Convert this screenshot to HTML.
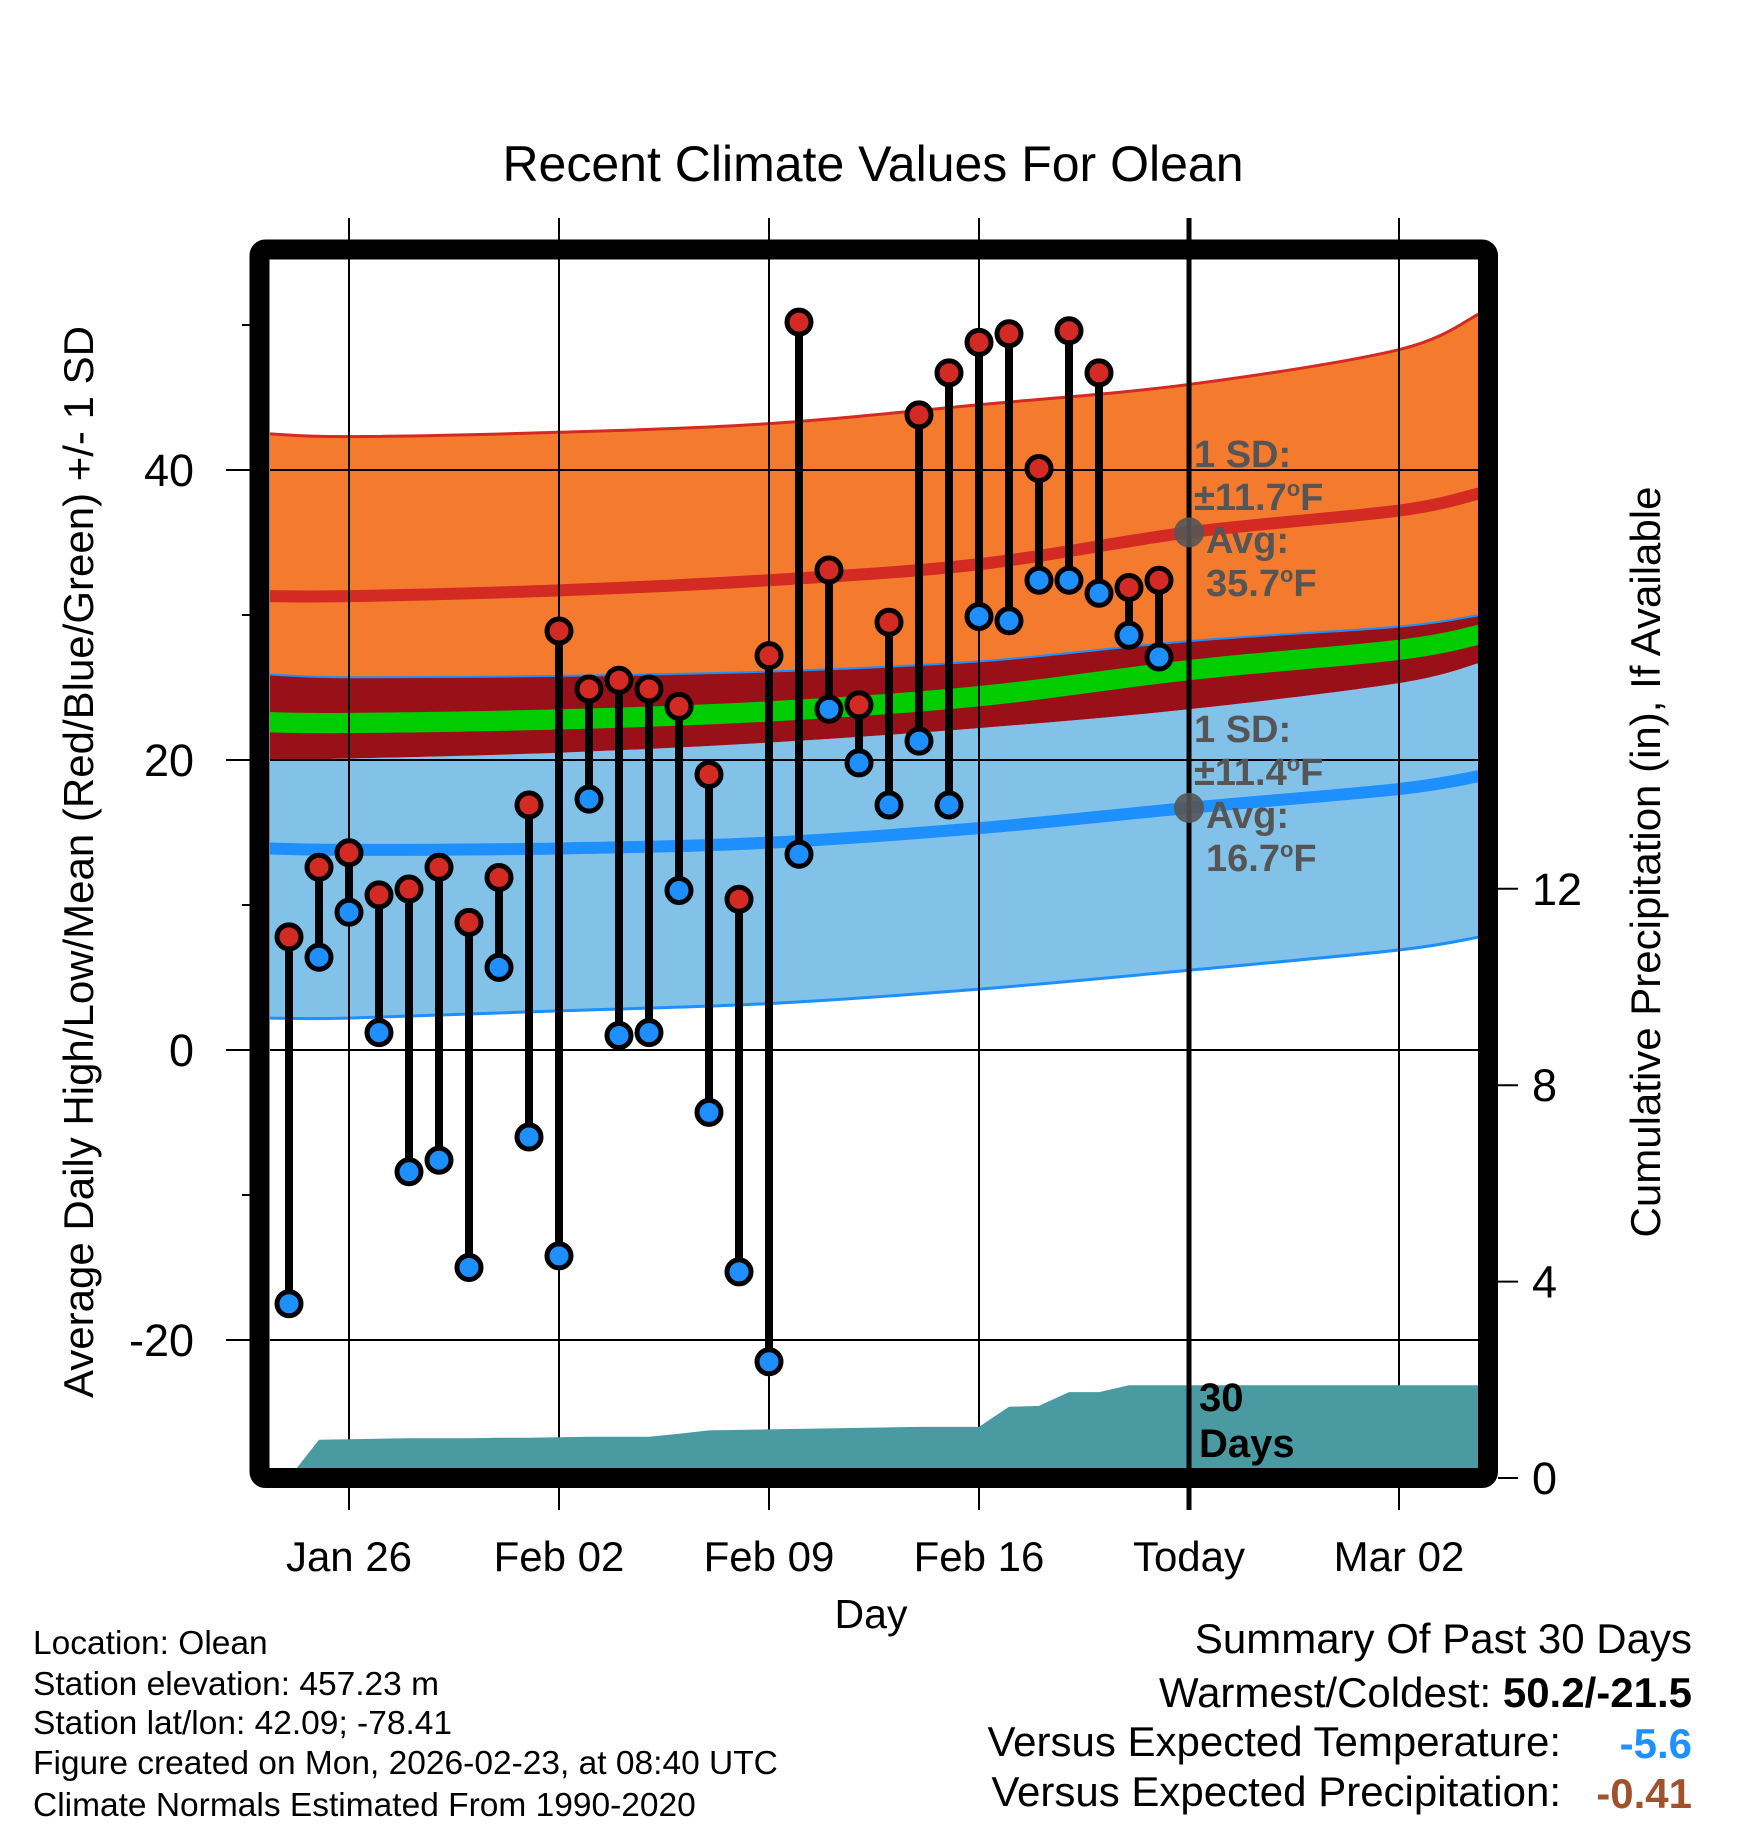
<!DOCTYPE html>
<html><head><meta charset="utf-8"><style>
html,body{margin:0;padding:0;background:#fff}
svg{display:block;font-family:"Liberation Sans",Arial,sans-serif}
</style></head><body>
<svg id="chart" width="1748" height="1828" viewBox="0 0 1748 1828" xmlns="http://www.w3.org/2000/svg">
<defs><clipPath id="plotclip"><rect x="270" y="260" width="1208" height="1208"/></clipPath></defs>
<g id="plot" clip-path="url(#plotclip)"></g>
<g id="over"></g>
<text x="873" y="181" font-size="50" text-anchor="middle">Recent Climate Values For Olean</text>
<text x="871" y="1628" font-size="41" text-anchor="middle">Day</text>
<text transform="translate(93,862) rotate(-90)" font-size="42" text-anchor="middle">Average Daily High/Low/Mean (Red/Blue/Green) +/- 1 SD</text>
<text transform="translate(1660,862) rotate(-90)" font-size="42" text-anchor="middle">Cumulative Precipitation (in), If Available</text>
<g font-size="33.5">
<text x="33" y="1654">Location: Olean</text>
<text x="33" y="1695">Station elevation: 457.23 m</text>
<text x="33" y="1734">Station lat/lon: 42.09; -78.41</text>
<text x="33" y="1774">Figure created on Mon, 2026-02-23, at 08:40 UTC</text>
<text x="33" y="1816">Climate Normals Estimated From 1990-2020</text>
</g>
<g font-size="42">
<text x="1692" y="1653" text-anchor="end">Summary Of Past 30 Days</text>
<text x="1692" y="1707" text-anchor="end">Warmest/Coldest: <tspan font-weight="bold">50.2/-21.5</tspan></text>
<text x="1561" y="1756" text-anchor="end">Versus Expected Temperature:</text>
<text x="1692" y="1758" text-anchor="end" font-weight="bold" fill="#1e90ff">-5.6</text>
<text x="1561" y="1806" text-anchor="end">Versus Expected Precipitation:</text>
<text x="1692" y="1808" text-anchor="end" font-weight="bold" fill="#a0522d">-0.41</text>
</g>
</svg>
<script>
// Data (day index 0 = Jan 24)
const highs = [7.8,12.6,13.6,10.7,11.1,12.6,8.8,11.9,16.9,28.9,24.9,25.5,24.9,23.7,19.0,10.4,27.2,50.2,33.1,23.8,29.5,43.8,46.7,48.8,49.4,40.1,49.6,46.7,31.9,32.4];
const lows  = [-17.5,6.4,9.5,1.2,-8.4,-7.6,-15.0,5.7,-6.0,-14.2,17.3,1.0,1.2,11.0,-4.3,-15.3,-21.5,13.5,23.5,19.8,16.9,21.3,16.9,29.9,29.6,32.4,32.4,31.5,28.6,27.1];
const precip = [0,0.78,0.79,0.80,0.81,0.81,0.81,0.82,0.82,0.83,0.84,0.84,0.84,0.90,0.97,0.98,0.99,1.00,1.01,1.02,1.03,1.04,1.04,1.04,1.45,1.47,1.75,1.75,1.89,1.89];
const normDays = [-0.7,2,9,16,23,30,37,39.7];
const hiUpper = [42.5,42.3,42.6,43.2,44.5,45.9,48.3,50.8];
const hiAvg   = [31.3,31.3,31.7,32.4,33.5,35.7,37.2,38.4];
const hiLower = [25.9,25.7,25.8,26.1,26.8,28.2,29.2,30.0];
const loUpper = [20.0,20.1,20.5,21.2,22.2,23.5,25.3,26.7];
const loAvg   = [13.9,13.8,13.9,14.3,15.3,16.7,18.0,18.9];
const loLower = [2.2,2.2,2.7,3.2,4.2,5.5,6.9,7.8];
const xTickDays = [2,9,16,23,30,37];
const xTickLabels = ["Jan 26","Feb 02","Feb 09","Feb 16","Today","Mar 02"];
const yTicks = [-20,0,20,40];
const yMinor = [-10,10,30,50];
const pTicks = [0,4,8,12];
const todayIdx = 30;

const NS="http://www.w3.org/2000/svg";
const X = d => 289 + 30*d;
const Y = t => 1050 - 14.5*t;
const P = v => 1478 - 49.1*v;
const plot=document.getElementById('plot'), over=document.getElementById('over');
function mk(tag, attrs, parent){const e=document.createElementNS(NS,tag);for(const k in attrs)e.setAttribute(k,attrs[k]);parent.appendChild(e);return e;}
function smooth(arr, rev){
  let p=arr.map((v,i)=>[X(normDays[i]),Y(v)]);
  if(rev)p=p.slice().reverse();
  let d=(rev?' L':'M')+p[0][0]+','+p[0][1];
  for(let i=0;i<p.length-1;i++){
    const p0=p[Math.max(0,i-1)],p1=p[i],p2=p[i+1],p3=p[Math.min(p.length-1,i+2)];
    const c1=[p1[0]+(p2[0]-p0[0])/6,p1[1]+(p2[1]-p0[1])/6];
    const c2=[p2[0]-(p3[0]-p1[0])/6,p2[1]-(p3[1]-p1[1])/6];
    d+=' C'+c1[0]+','+c1[1]+' '+c2[0]+','+c2[1]+' '+p2[0]+','+p2[1];
  }
  return d;
}
function band(top,bot,fill,name){
  const e=mk('path',{d:smooth(top,false)+smooth(bot,true)+' Z',fill:fill},plot);
  
  
}
function line(arr,color,w,name){
  const e=mk('path',{d:smooth(arr,false),fill:'none',stroke:color,'stroke-width':w},plot);
  
  
}
const mean = hiAvg.map((v,i)=>(v+loAvg[i])/2);
const meanTop = mean.map(v=>v+0.7), meanBot = mean.map(v=>v-0.7);
band(hiUpper,hiLower,'#f47a2e','high-sd-band');
band(loUpper,loLower,'#82c1e8','low-sd-band');
band(hiLower,loUpper,'#9a1018','overlap-band');
band(meanTop,meanBot,'#00cc00','mean-band');
line(hiUpper,'#d42a24',3,'high-upper-line');
line(loLower,'#1e8fff',3,'low-lower-line');
line(hiLower,'#1e8fff',2,'high-lower-line');
line(hiAvg,'#d42a24',12,'avg-high-line');
line(loAvg,'#1e8fff',12,'avg-low-line');
yTicks.forEach(t=>{const e=mk('line',{x1:270,x2:1478,y1:Y(t),y2:Y(t),stroke:'#000','stroke-width':2},plot);

});
xTickDays.forEach((d,i)=>{if(i===4)return;const e=mk('line',{x1:X(d),x2:X(d),y1:218,y2:1510,stroke:'#000','stroke-width':2},over);

});
let pd='M'+X(0)+','+P(precip[0]);
precip.forEach((v,i)=>{pd+=' L'+X(i)+','+P(v);});
pd+=' L1478,'+P(precip[precip.length-1])+' L1478,1478 L'+X(0)+',1478 Z';
const pa=mk('path',{d:pd,fill:'#4a9aa2'},over);


pa.setAttribute('clip-path','url(#plotclip)');
highs.forEach((h,i)=>{
  const s=mk('line',{x1:X(i),x2:X(i),y1:Y(h),y2:Y(lows[i]),stroke:'#000','stroke-width':8},over);
  
  
});
highs.forEach((h,i)=>{
  const a=mk('circle',{cx:X(i),cy:Y(h),r:12,fill:'#d42a24',stroke:'#000','stroke-width':5},over);
  
  
  const b=mk('circle',{cx:X(i),cy:Y(lows[i]),r:12,fill:'#1e8fff',stroke:'#000','stroke-width':5},over);
  
  
});
const tl=mk('line',{x1:X(todayIdx),x2:X(todayIdx),y1:218,y2:1510,stroke:'#000','stroke-width':5},over);


const g1=mk('circle',{cx:X(todayIdx),cy:Y(hiAvg[5]),r:15,fill:'#555','fill-opacity':0.9},over);


const g2=mk('circle',{cx:X(todayIdx),cy:Y(loAvg[5]),r:15,fill:'#555','fill-opacity':0.9},over);


function note(y0,lines,name){
  const t=mk('text',{x:1194,y:y0,'font-size':38,'font-weight':'bold',fill:'#555'},over);
  
  
  lines.forEach((l,i)=>{const ts=mk('tspan',{x:1194+(i>=2?12:0),dy:i?43:0},t);ts.innerHTML=l;});
}
note(467,['1 SD:','±11.7<tspan dy="-14" font-size="22">o</tspan><tspan dy="14">F</tspan>','Avg:','35.7<tspan dy="-14" font-size="22">o</tspan><tspan dy="14">F</tspan>'],'high-note');
note(742,['1 SD:','±11.4<tspan dy="-14" font-size="22">o</tspan><tspan dy="14">F</tspan>','Avg:','16.7<tspan dy="-14" font-size="22">o</tspan><tspan dy="14">F</tspan>'],'low-note');
const d30=mk('text',{x:1199,y:1411,'font-size':40,'font-weight':'bold',fill:'#000'},over);


d30.innerHTML='<tspan x="1199">30</tspan><tspan x="1199" dy="46">Days</tspan>';
const fr=mk('rect',{x:259.5,y:249.5,width:1228.5,height:1228.5,rx:6,fill:'none',stroke:'#000','stroke-width':20},over);


yTicks.forEach(t=>{
  const e=mk('line',{x1:226,x2:250,y1:Y(t),y2:Y(t),stroke:'#000','stroke-width':2},over);
  
  
  const l=mk('text',{x:194,y:Y(t)+16,'font-size':45,'text-anchor':'end'},over);
  
  
  l.textContent=t;
});
yMinor.forEach(t=>{
  const e=mk('line',{x1:242,x2:250,y1:Y(t),y2:Y(t),stroke:'#000','stroke-width':2},over);
  
  
});
pTicks.forEach(v=>{
  const e=mk('line',{x1:1498,x2:1518,y1:P(v),y2:P(v),stroke:'#000','stroke-width':2},over);
  
  
  const l=mk('text',{x:1532,y:P(v)+16,'font-size':45,'text-anchor':'start'},over);
  
  
  l.textContent=v;
});
xTickDays.forEach((d,i)=>{
  const l=mk('text',{x:X(d),y:1571,'font-size':42,'text-anchor':'middle'},over);
  
  
  l.textContent=xTickLabels[i];
});
</script>
</body></html>
